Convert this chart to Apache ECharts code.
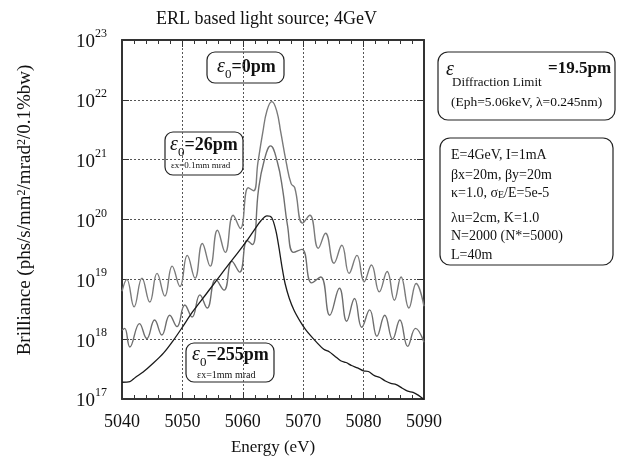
<!DOCTYPE html>
<html><head><meta charset="utf-8">
<script src="https://cdn.jsdelivr.net/npm/echarts@6/dist/echarts.min.js"></script>
<style>html,body{margin:0;padding:0;background:#fff}#c{width:619px;height:471px}</style>
</head><body><div id="c"></div>
<script>
// ---------- data (energy in eV, brilliance as log10 exponent) ----------
const xTicks = [5040, 5050, 5060, 5070, 5080, 5090];
const yDecades = [17, 18, 19, 20, 21, 22, 23];

// epsilon0 = 0 pm (upper grey curve): peaks / troughs
const zeroPmEnergy = [5040, 5040.8, 5042.0, 5043.3, 5044.6, 5045.8, 5047.1, 5048.3, 5049.6, 5050.8, 5052.1, 5053.3, 5054.6, 5055.8, 5057.1, 5058.4, 5059.6, 5060.9, 5061.8, 5062.5, 5063.3, 5064.0, 5064.8, 5065.6, 5066.3, 5067.2, 5068.0, 5068.6, 5069.9, 5071.1, 5072.5, 5073.7, 5075.1, 5076.4, 5077.6, 5078.9, 5080.1, 5081.3, 5082.6, 5083.9, 5085.1, 5086.2, 5087.5, 5088.7, 5090];
const zeroPmLog = [18.80, 19.00, 18.54, 19.02, 18.62, 19.10, 18.72, 19.22, 18.88, 19.40, 19.02, 19.60, 19.22, 19.82, 19.45, 20.07, 19.85, 20.53, 20.48, 20.95, 21.45, 21.82, 21.97, 21.82, 21.45, 20.95, 20.60, 20.53, 19.94, 20.07, 19.52, 19.77, 19.27, 19.57, 19.10, 19.40, 18.96, 19.24, 18.79, 19.13, 18.65, 19.04, 18.52, 18.93, 18.55];

// epsilon0 = 26 pm (middle grey curve)
const pm26Energy = [5040, 5040.45, 5041.3, 5042.9, 5044.1, 5045.4, 5046.6, 5047.9, 5049.1, 5050.4, 5051.6, 5052.9, 5054.1, 5055.5, 5056.9, 5058.2, 5059.5, 5060.7, 5061.6, 5062.6, 5063.5, 5064.6, 5065.7, 5066.6, 5067.4, 5068.4, 5069.8, 5071.4, 5072.9, 5074.4, 5076.0, 5077.2, 5078.5, 5079.7, 5081.0, 5082.2, 5083.5, 5084.8, 5086.0, 5087.3, 5088.6, 5090];
const pm26Log = [18.15, 18.18, 17.87, 18.26, 18.01, 18.32, 18.07, 18.40, 18.21, 18.57, 18.37, 18.74, 18.52, 19.00, 18.82, 19.30, 19.12, 19.65, 19.58, 20.50, 20.97, 21.23, 20.97, 20.50, 19.90, 19.45, 19.50, 18.94, 19.04, 18.40, 18.85, 18.30, 18.68, 18.20, 18.49, 18.05, 18.40, 18.00, 18.32, 17.88, 18.18, 17.95];

// epsilon0 = 255 pm (black curve)
const pm255Energy = [5040, 5041.3, 5042.2, 5043.5, 5045.2, 5046.9, 5048.5, 5050, 5051.5, 5053, 5054.5, 5056, 5057.5, 5059, 5060.5, 5062, 5063, 5064, 5064.8, 5065.5, 5066, 5066.5, 5067, 5067.7, 5068.5, 5069.6, 5070.4, 5071.3, 5072.2, 5073.4, 5074.3, 5075.2, 5076.2, 5077.1, 5078, 5079, 5080, 5080.8, 5081.8, 5082.7, 5083.6, 5084.5, 5085.4, 5086.4, 5087.3, 5088.2, 5089.1, 5090];
const pm255Log = [17.28, 17.29, 17.36, 17.45, 17.60, 17.77, 17.98, 18.20, 18.43, 18.63, 18.83, 19.03, 19.23, 19.42, 19.62, 19.84, 19.98, 20.06, 20.03, 19.80, 19.52, 19.20, 18.93, 18.68, 18.48, 18.28, 18.16, 18.05, 17.95, 17.83, 17.79, 17.72, 17.64, 17.61, 17.56, 17.52, 17.47, 17.46, 17.39, 17.36, 17.30, 17.26, 17.24, 17.18, 17.13, 17.11, 17.06, 16.99];

// ---------- helpers ----------
const toPairs = (xs, ls) => xs.map((x, i) => [x, Math.pow(10, ls[i])]);
const SERIF = 'Liberation Serif, Times New Roman, serif';

const chart = echarts.init(document.getElementById('c'), null, {renderer: 'canvas'});

const gridStyle = {show: true, lineStyle: {color: '#555', width: 1, type: [2, 2]}};
const frameLine = {show: true, onZero: false, lineStyle: {color: '#333', width: 2}};

function box(x, y, w, h, r, children) {
  return {
    type: 'group', x: x, y: y, z: 100,
    children: [{type: 'rect', shape: {x: 0, y: 0, width: w, height: h, r: r},
      style: {fill: '#fff', stroke: '#222', lineWidth: 1.2}}].concat(children)
  };
}
const epsRich = {
  e: {fontFamily: SERIF, fontStyle: 'italic', fontSize: 20, lineHeight: 28, verticalAlign: 'middle', fill: '#111'},
  sub: {fontFamily: SERIF, fontSize: 13, lineHeight: 13, verticalAlign: 'bottom', fill: '#111'},
  t: {fontFamily: SERIF, fontWeight: 'bold', fontSize: 18, lineHeight: 28, verticalAlign: 'middle', fill: '#111'}
};
function txt(x, y, text, size, extra) {
  return Object.assign({type: 'text', x: x, y: y,
    style: Object.assign({text: text, fontFamily: SERIF, fontSize: size, fill: '#111', textAlign: 'left', textVerticalAlign: 'middle'}, extra && extra.style || {})},
    extra && extra.el || {});
}

const option = {
  backgroundColor: '#fff',
  animation: false,
  title: {
    text: 'ERL based light source; 4GeV', left: 151, top: 5,
    textStyle: {fontFamily: SERIF, fontSize: 18, fontWeight: 'normal', color: '#111'}
  },
  grid: {left: 122, right: 195, top: 40, bottom: 72},
  xAxis: [{
    type: 'value', min: 5040, max: 5090, interval: 10,
    name: 'Energy (eV)', nameLocation: 'middle', nameGap: 40,
    nameTextStyle: {fontFamily: SERIF, fontSize: 17, color: '#111'},
    axisLine: frameLine,
    axisTick: {show: true, inside: true, length: 7, lineStyle: {color: '#333'}},
    minorTick: {show: true, splitNumber: 5, length: 4, lineStyle: {color: '#333'}},
    axisLabel: {fontFamily: SERIF, fontSize: 18, color: '#111', margin: 14,
      formatter: v => xTicks.indexOf(v) >= 0 ? String(v) : ''},
    splitLine: gridStyle
  }, {
    type: 'value', position: 'top', min: 5040, max: 5090, interval: 10,
    axisLine: frameLine,
    axisTick: {show: true, inside: true, length: 7, lineStyle: {color: '#333'}},
    minorTick: {show: true, splitNumber: 5, length: 4, lineStyle: {color: '#333'}},
    axisLabel: {show: false}, splitLine: {show: false}
  }],
  yAxis: [{
    type: 'log', logBase: 10, min: 1e17, max: 1e23, interval: 1,
    axisLine: frameLine,
    axisTick: {show: true, inside: true, length: 7, lineStyle: {color: '#333'}},
    axisLabel: {
      margin: 15, color: '#111',
      formatter: v => {
        const p = Math.round(Math.log10(v));
        return yDecades.indexOf(p) >= 0 ? '{b|10}{s|' + p + '}' : '';
      },
      rich: {
        b: {fontFamily: SERIF, fontSize: 19, lineHeight: 24, verticalAlign: 'bottom', color: '#111'},
        s: {fontFamily: SERIF, fontSize: 12, lineHeight: 12, verticalAlign: 'top', color: '#111'}
      }
    },
    splitLine: gridStyle
  }, {
    type: 'log', logBase: 10, min: 1e17, max: 1e23, interval: 1, position: 'right',
    axisLine: frameLine,
    axisTick: {show: true, inside: true, length: 7, lineStyle: {color: '#333'}},
    axisLabel: {show: false}, splitLine: {show: false}
  }],
  series: [{
    name: 'eps0=0pm', type: 'line', data: toPairs(zeroPmEnergy, zeroPmLog),
    showSymbol: false, smooth: 0.45, lineStyle: {color: '#7a7a7a', width: 1.4}, z: 3
  }, {
    name: 'eps0=26pm', type: 'line', data: toPairs(pm26Energy, pm26Log),
    showSymbol: false, smooth: 0.45, lineStyle: {color: '#6e6e6e', width: 1.4}, z: 3
  }, {
    name: 'eps0=255pm', type: 'line', data: toPairs(pm255Energy, pm255Log),
    showSymbol: false, smooth: 0.3, lineStyle: {color: '#1a1a1a', width: 1.3}, z: 4
  }],
  graphic: [
    // y-axis title
    {type: 'text', x: 25, y: 210, rotation: Math.PI / 2, z: 100,
      style: {text: 'Brilliance (phs/s/mm{s|2}/mrad{s|2}/0.1%bw)', fontFamily: SERIF, fontSize: 19, fill: '#111',
        textAlign: 'center', textVerticalAlign: 'middle',
        rich: {s: {fontFamily: SERIF, fontSize: 12, lineHeight: 12, verticalAlign: 'top', fill: '#111'}}}},
    // eps0 = 0pm
    box(207, 52, 77, 31, 8, [
      txt(10, 15, '{e|ε}{sub|0}{t|=0pm}', 18, {style: {rich: epsRich}})
    ]),
    // eps0 = 26pm
    box(165, 132, 78, 43, 8, [
      txt(5, 13, '{e|ε}{sub|0}{t|=26pm}', 18, {style: {rich: epsRich}}),
      txt(6, 34, 'εx=0.1mm mrad', 9)
    ]),
    // eps0 = 255pm
    box(186, 343, 88, 39, 8, [
      txt(6, 12, '{e|ε}{sub|0}{t|=255pm}', 18, {style: {rich: epsRich}}),
      txt(11, 32, 'εx=1mm mrad', 10)
    ]),
    // diffraction limit box
    box(438, 52, 177, 68, 10, [
      txt(8, 18, 'ε', 20, {style: {fontStyle: 'italic'}}),
      txt(14, 31, 'Diffraction Limit', 13),
      txt(110, 17, '=19.5pm', 17, {style: {fontWeight: 'bold'}}),
      txt(13, 50, '(Eph=5.06keV, λ=0.245nm)', 13.5)
    ]),
    // parameters box
    box(440, 138, 173, 127, 10, [
      txt(11, 17, 'E=4GeV, I=1mA', 14),
      txt(11, 37, 'βx=20m, βy=20m', 14),
      txt(11, 55, 'κ=1.0, σ{sub|E}/E=5e-5', 14, {style: {rich: {sub: {fontFamily: SERIF, fontSize: 10, lineHeight: 10, verticalAlign: 'bottom', fill: '#111'}}}}),
      txt(11, 80, 'λu=2cm, K=1.0', 14),
      txt(11, 98, 'N=2000 (N*=5000)', 14),
      txt(11, 117, 'L=40m', 14)
    ])
  ]
};
chart.setOption(option);
</script></body></html>
